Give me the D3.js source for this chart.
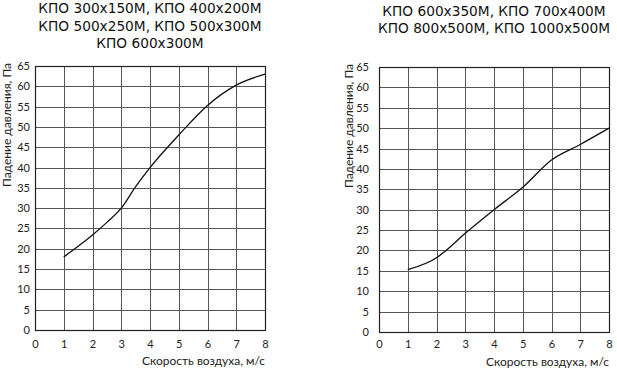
<!DOCTYPE html>
<html><head><meta charset="utf-8">
<script src="https://cdn.jsdelivr.net/npm/d3@7"></script>
<style>body{margin:0;background:#fff}svg{display:block}</style>
</head><body>
<svg id="c" width="617" height="371"></svg>
<script>
const xTicks = [0,1,2,3,4,5,6,7,8];
const yTicks = [0,5,10,15,20,25,30,35,40,45,50,55,60,65];
const leftTitle = ["КПО 300x150M, КПО 400x200M","КПО 500x250M, КПО 500x300M","КПО 600x300M"];
const rightTitle = ["КПО 600x350M, КПО 700x400M","КПО 800x500M, КПО 1000x500M"];
const leftSpeed = [1,1.5,2,2.5,3,3.5,4,5,6,7,8];
const leftDrop  = [18,20.6,23.4,26.5,30,35.3,40,48,55.3,60.3,63];
const rightSpeed = [1,2,2.3,3,4,5,6,7,8];
const rightDrop  = [15.3,18.2,19.8,24.2,30,35.5,42.2,46,50];
const yLabel = "Падение давления, Па";
const xLabel = "Скорость воздуха, м/с";

const svg = d3.select("#c");
const tickFont = "Lato, 'Open Sans', sans-serif";

function chart(o){
  const x = d3.scaleLinear().domain([0,8]).range([o.x0,o.x1]);
  const y = d3.scaleLinear().domain([0,65]).range([o.y0,o.y1]);
  const g = svg.append("g");
  g.selectAll(".vg").data(xTicks).join("line")
    .attr("x1",d=>Math.round(x(d))+0.5).attr("x2",d=>Math.round(x(d))+0.5)
    .attr("y1",y(0)).attr("y2",y(65))
    .attr("stroke","#555").attr("stroke-width",1);
  g.selectAll(".hg").data(yTicks).join("line")
    .attr("y1",d=>Math.round(y(d))+0.5).attr("y2",d=>Math.round(y(d))+0.5)
    .attr("x1",x(0)).attr("x2",x(8))
    .attr("stroke","#555").attr("stroke-width",1);
  g.append("rect").attr("x",x(0)+0.5).attr("y",Math.round(y(65))+0.5)
    .attr("width",x(8)-x(0)).attr("height",Math.round(y(0))-Math.round(y(65)))
    .attr("fill","none").attr("stroke","#222").attr("stroke-width",1.2);
  const xa = d3.axisBottom(x).tickValues(xTicks).tickSize(0).tickPadding(o.xpad);
  const xg = g.append("g").attr("transform",`translate(0,${y(0)})`).call(xa);
  const ya = d3.axisLeft(y).tickValues(yTicks).tickSize(0).tickPadding(o.ypad);
  const yg = g.append("g").attr("transform",`translate(${x(0)},0)`).call(ya);
  [xg,yg].forEach(a=>{a.select(".domain").remove();
    a.selectAll("text").attr("font-family",tickFont).attr("font-size","11px").attr("fill","#222");});
  const line = d3.line().x(d=>x(d[0])).y(d=>y(d[1])).curve(d3.curveMonotoneX);
  g.append("path").datum(d3.zip(o.sx,o.sy)).attr("d",line)
    .attr("fill","none").attr("stroke","#111").attr("stroke-width",1.3);
  g.append("text").attr("transform",`translate(${o.ylx},${o.yly}) rotate(-90)`)
    .attr("text-anchor","middle").attr("font-family",tickFont).attr("font-size","12px")
    .attr("fill","#222").text(yLabel);
  g.append("text").attr("x",x(8)).attr("y",o.xly).attr("text-anchor","end")
    .attr("font-family",tickFont).attr("font-size","12px").attr("fill","#222").text(xLabel);
  g.selectAll(".t").data(o.title).join("text")
    .attr("x",o.tx).attr("y",(d,i)=>o.ty+i*o.tsp).attr("text-anchor","middle")
    .attr("font-family","'DejaVu Sans', Verdana, sans-serif").attr("font-size","13.7px")
    .attr("fill","#111").text(d=>d);
}

chart({x0:35,x1:265,y0:330,y1:66,sx:leftSpeed,sy:leftDrop,xpad:10,ypad:5,
  ylx:11,yly:125,xly:365,title:leftTitle,tx:150,ty:13,tsp:17.5});
chart({x0:379,x1:609,y0:332,y1:67,sx:rightSpeed,sy:rightDrop,xpad:8,ypad:10,
  ylx:353,yly:126,xly:366,title:rightTitle,tx:494,ty:16,tsp:17});
</script>
</body></html>
